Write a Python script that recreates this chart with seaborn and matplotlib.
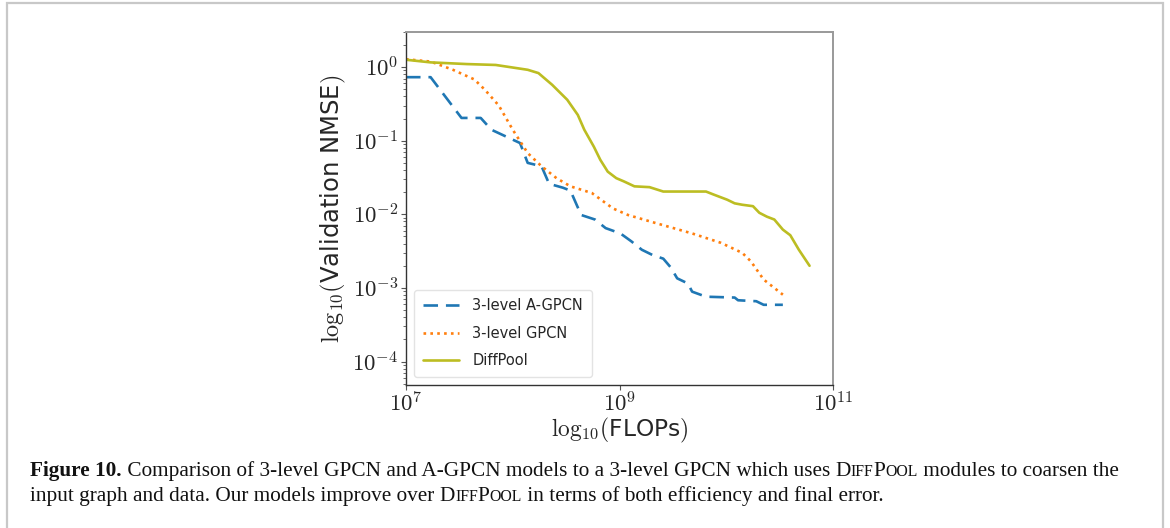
import numpy as np
import pandas as pd
import matplotlib
matplotlib.use("Agg")
import matplotlib.pyplot as plt
import seaborn as sns
from matplotlib.patches import Rectangle
from matplotlib.ticker import FixedLocator, FixedFormatter, LogLocator, NullFormatter, NullLocator

# ---------------- data ----------------
agpcn_flops = [1.0e7, 1.70e7, 3.31e7, 5.01e7, 6.31e7, 1.17e8, 1.38e8, 1.86e8, 2.19e8, 2.95e8,
               3.47e8, 4.37e8, 5.89e8, 7.41e8, 1.02e9, 1.29e9, 1.62e9, 2.04e9, 2.57e9, 3.02e9,
               3.47e9, 4.37e9, 4.79e9, 6.46e9, 1.20e10, 1.29e10, 1.91e10, 2.24e10, 3.39e10]
agpcn_nmse = [0.73, 0.73, 0.204, 0.204, 0.141, 0.093, 0.050, 0.045, 0.026, 0.023,
              0.021, 0.0098, 0.0085, 0.0065, 0.0055, 0.0043, 0.0033, 0.0028, 0.0025, 0.0019,
              0.00135, 0.00115, 0.00089, 0.00076, 0.00074, 0.00068, 0.00066, 0.00059, 0.00059]

gpcn_flops = [1.0e7, 1.70e7, 2.75e7, 4.37e7, 5.50e7, 7.41e7, 1.0e8, 1.38e8, 1.86e8, 2.57e8,
              3.47e8, 5.50e8, 8.71e8, 1.20e9, 2.19e9, 4.79e9, 8.91e9, 1.41e10, 1.70e10, 2.24e10,
              3.39e10]
gpcn_nmse = [1.28, 1.19, 0.92, 0.68, 0.49, 0.30, 0.141, 0.068, 0.045, 0.031,
             0.024, 0.0195, 0.012, 0.0098, 0.0076, 0.0055, 0.0041, 0.0030, 0.0023, 0.0013,
             0.00081]

diffpool_flops = [1.0e7, 1.70e7, 3.72e7, 6.92e7, 1.38e8, 1.74e8, 2.34e8, 3.24e8, 4.07e8, 4.68e8,
                  5.75e8, 6.61e8, 7.76e8, 9.33e8, 1.10e9, 1.38e9, 1.91e9, 2.57e9, 6.46e9, 7.59e9,
                  1.02e10, 1.20e10, 1.41e10, 1.78e10, 2.04e10, 2.40e10, 2.82e10, 3.39e10, 3.98e10,
                  4.79e10, 6.03e10]
diffpool_nmse = [1.26, 1.16, 1.10, 1.07, 0.92, 0.83, 0.575, 0.36, 0.224, 0.141,
                 0.083, 0.055, 0.038, 0.031, 0.028, 0.024, 0.0234, 0.0204, 0.0204, 0.0186,
                 0.0158, 0.0141, 0.0135, 0.0129, 0.0105, 0.0093, 0.0085, 0.0062, 0.0052,
                 0.0033, 0.0020]

series_names = ["3-level A-GPCN", "3-level GPCN", "DiffPool"]
x_ticks = [1e7, 1e9, 1e11]
x_tick_labels = [r"$10^{7}$", r"$10^{9}$", r"$10^{11}$"]
y_ticks = [1e-4, 1e-3, 1e-2, 1e-1, 1e0]
y_tick_labels = [r"$10^{-4}$", r"$10^{-3}$", r"$10^{-2}$", r"$10^{-1}$", r"$10^{0}$"]

# ---------------- style ----------------
sns.set_style("white")
plt.rcParams["font.family"] = ["DejaVu Sans"]
plt.rcParams["mathtext.fontset"] = "cm"

fig = plt.figure(figsize=(11.7, 5.28), dpi=100)
W, H = 1170, 528
ax = fig.add_axes([406 / W, 1 - 385 / H, 427 / W, 353 / H])

df = pd.concat([
    pd.DataFrame({"FLOPs": agpcn_flops, "NMSE": agpcn_nmse, "model": series_names[0]}),
    pd.DataFrame({"FLOPs": gpcn_flops, "NMSE": gpcn_nmse, "model": series_names[1]}),
    pd.DataFrame({"FLOPs": diffpool_flops, "NMSE": diffpool_nmse, "model": series_names[2]}),
], ignore_index=True)

colors = {series_names[0]: "#1f77b4", series_names[1]: "#ff7f0e", series_names[2]: "#bcbd22"}
styles = {series_names[0]: (0, (5.5, 3.0)), series_names[1]: (0, (1, 1.6)), series_names[2]: "-"}

for name in series_names:
    sub = df[df["model"] == name]
    sns.lineplot(data=sub, x="FLOPs", y="NMSE", ax=ax, color=colors[name],
                 linestyle=styles[name], linewidth=1.9, label=name, sort=False,
                 estimator=None)

ax.set_xscale("log")
ax.set_yscale("log")
ax.set_xlim(1e7, 1e11)
ax.set_ylim(4.8e-5, 3.0)

ax.xaxis.set_major_locator(FixedLocator(x_ticks))
ax.xaxis.set_major_formatter(FixedFormatter(x_tick_labels))
ax.xaxis.set_minor_locator(NullLocator())
ax.yaxis.set_major_locator(FixedLocator(y_ticks))
ax.yaxis.set_major_formatter(FixedFormatter(y_tick_labels))
ax.yaxis.set_minor_locator(LogLocator(base=10, subs=np.arange(2, 10)))
ax.yaxis.set_minor_formatter(NullFormatter())

ax.tick_params(axis="both", which="major", direction="out", length=3.5, width=0.8,
               labelsize=16.5, color="#555555", pad=2)
ax.tick_params(axis="y", which="minor", direction="out", length=2, width=0.6, color="#555555",
               left=True)
ax.tick_params(axis="both", left=True, bottom=True)

for side in ["left", "bottom"]:
    ax.spines[side].set_color("#333333")
    ax.spines[side].set_linewidth(1.0)
for side in ["top", "right"]:
    ax.spines[side].set_color("#999999")
    ax.spines[side].set_linewidth(1.4)

ax.set_xlabel(r"$\mathrm{log}_{10}($FLOPs$)$", fontsize=16.8, labelpad=-1)
ax.set_ylabel(r"$\mathrm{log}_{10}($Validation NMSE$)$", fontsize=17.5, labelpad=3)

leg = ax.legend(loc="lower left", fontsize=10.5, frameon=True, fancybox=True,
                handlelength=2.5, borderpad=0.6, labelspacing=0.85, handletextpad=0.9,
                borderaxespad=0.55)
leg.get_frame().set_edgecolor("#dddddd")
leg.get_frame().set_linewidth(1.0)

# ---------------- page frame ----------------
fig.add_artist(Rectangle((7 / W, -0.05), (1163 - 7) / W, (1 - 3 / H) + 0.05,
                         transform=fig.transFigure, fill=False, edgecolor="#c8c8c8",
                         linewidth=1.6))

# ---------------- caption (rich text with small caps) ----------------
fig.canvas.draw()
renderer = fig.canvas.get_renderer()
serif = ["Liberation Serif", "DejaVu Serif"]
cap_size = 15.3
sc_size = cap_size * 0.74


def draw_pieces(pieces, x_px, y_px):
    x = x_px
    for txt, size, weight in pieces:
        t = fig.text(x / W, 1 - y_px / H, txt, fontsize=size, fontweight=weight,
                     family=serif, va="baseline", ha="left", color="#111111")
        bb = t.get_window_extent(renderer=renderer)
        x += bb.width


line1 = [("Figure 10.", cap_size, "bold"),
         (" Comparison of 3-level GPCN and A-GPCN models to a 3-level GPCN which uses ", cap_size, "normal"),
         ("D", cap_size, "normal"), ("IFF", sc_size, "normal"),
         ("P", cap_size, "normal"), ("OOL", sc_size, "normal"),
         (" modules to coarsen the", cap_size, "normal")]
line2 = [("input graph and data. Our models improve over ", cap_size, "normal"),
         ("D", cap_size, "normal"), ("IFF", sc_size, "normal"),
         ("P", cap_size, "normal"), ("OOL", sc_size, "normal"),
         (" in terms of both efficiency and final error.", cap_size, "normal")]
draw_pieces(line1, 30, 476)
draw_pieces(line2, 30, 501)

fig.savefig("out.png", dpi=100)
